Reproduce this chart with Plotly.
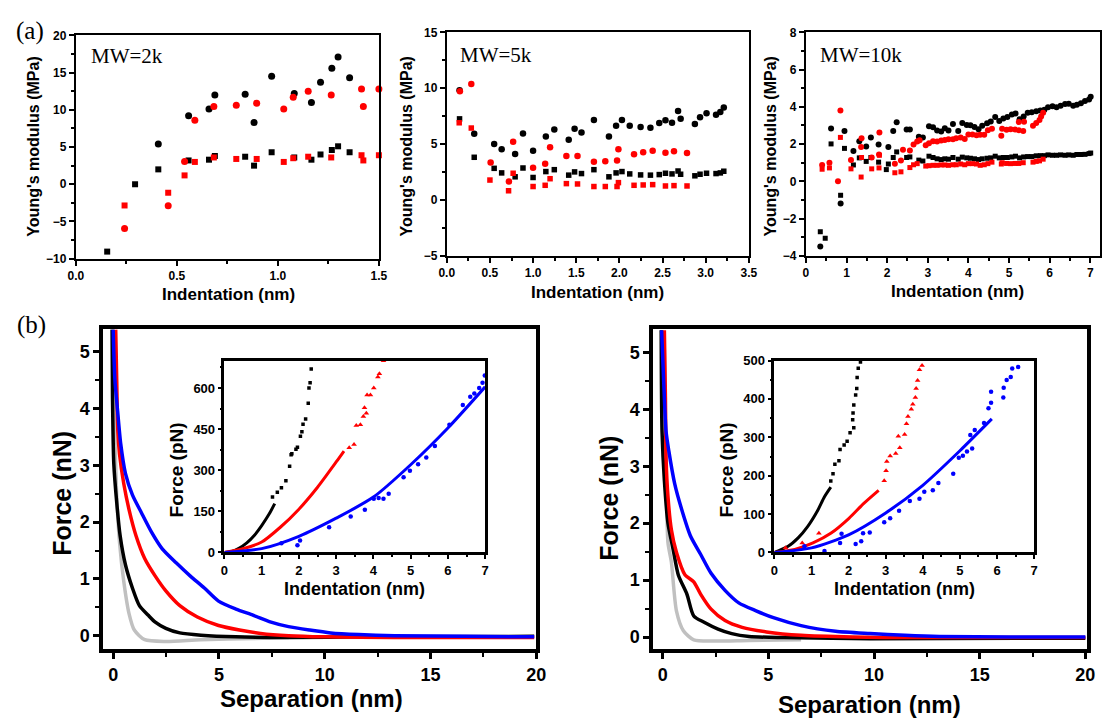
import plotly.graph_objects as go

W, H = 1112, 725

# ---------------- (a) MW=2k ----------------
a1_bc_x = [0.408, 0.558, 0.659, 0.688, 0.838, 0.882, 0.969, 1.081, 1.166, 1.211, 1.267, 1.298, 1.355]
a1_bc_y = [5.4, 9.2, 10.1, 12.0, 12.1, 8.3, 14.5, 12.2, 11.0, 13.7, 15.6, 17.1, 14.3]
a1_bs_x = [0.155, 0.293, 0.408, 0.558, 0.659, 0.688, 0.838, 0.882, 0.969, 1.081, 1.166, 1.211, 1.267, 1.298, 1.355]
a1_bs_y = [-9.05, 0.0, 2.0, 3.2, 3.3, 3.8, 3.7, 2.5, 4.3, 3.6, 3.3, 4.0, 4.6, 5.1, 4.3]
a1_rc_x = [0.241, 0.457, 0.538, 0.589, 0.683, 0.794, 0.895, 1.029, 1.076, 1.15, 1.264, 1.414, 1.423, 1.5]
a1_rc_y = [-5.93, -2.9, 3.07, 8.6, 10.45, 10.6, 10.9, 10.1, 11.7, 12.5, 12.0, 12.8, 10.45, 12.8]
a1_rs_x = [0.241, 0.457, 0.538, 0.589, 0.683, 0.794, 0.895, 1.029, 1.076, 1.15, 1.264, 1.414, 1.423, 1.5]
a1_rs_y = [-2.85, -1.14, 1.19, 3.0, 3.6, 3.4, 3.4, 3.0, 3.5, 3.7, 3.6, 3.9, 3.2, 3.9]

# ---------------- (a) MW=5k ----------------
a2_b_x = [0.148, 0.318, 0.549, 0.636, 0.792, 0.883, 1.0, 1.148, 1.246, 1.413, 1.481, 1.561, 1.705, 1.879,
          1.962, 2.03, 2.12, 2.246, 2.36, 2.462, 2.534, 2.61, 2.68, 2.71, 2.875, 2.935, 3.01, 3.12, 3.17, 3.21]
a2_bc_y = [9.83, 5.92, 5.01, 4.55, 4.11, 5.95, 4.40, 5.69, 6.30, 5.39, 6.38, 6.03, 7.17, 5.69,
           6.65, 7.17, 6.65, 6.53, 6.47, 6.88, 7.14, 6.91, 7.96, 7.26, 6.79, 7.4, 7.76, 7.64, 7.87, 8.28]
a2_bs_y = [7.26, 3.82, 2.83, 2.42, 2.07, 2.86, 2.01, 2.54, 2.71, 2.22, 2.51, 2.36, 2.71, 2.07,
           2.42, 2.54, 2.33, 2.24, 2.22, 2.27, 2.39, 2.33, 2.59, 2.30, 2.16, 2.30, 2.39, 2.36, 2.42, 2.57]
a2_rc_x = [0.152, 0.284, 0.508, 0.72, 0.769, 1.0, 1.14, 1.197, 1.386, 1.515, 1.705, 1.837, 1.973, 1.989,
           2.17, 2.276, 2.386, 2.534, 2.633, 2.784]
a2_rc_y = [9.74, 10.38, 3.35, 1.66, 5.22, 2.89, 3.24, 4.72, 3.94, 3.94, 3.41, 3.47, 3.53, 4.55,
           4.08, 4.26, 4.40, 4.23, 4.37, 4.20]
a2_rs_x = [0.144, 0.284, 0.5, 0.716, 0.769, 1.0, 1.14, 1.197, 1.386, 1.515, 1.705, 1.837, 1.973, 1.989,
           2.17, 2.276, 2.386, 2.534, 2.633, 2.784]
a2_rs_y = [6.91, 6.44, 1.78, 0.82, 2.39, 1.2, 1.31, 1.90, 1.46, 1.43, 1.20, 1.2, 1.2, 1.55,
           1.31, 1.34, 1.37, 1.25, 1.28, 1.25]

# ---------------- (a) MW=10k ----------------
a3_bc_x = [0.355, 0.62, 0.855, 0.95, 1.17, 1.315, 1.485, 1.6, 1.79, 2.03, 2.15, 2.235, 2.48, 2.56, 2.78, 2.88,
           3.03, 3.13, 3.23, 3.33, 3.42, 3.51, 3.62, 3.75, 3.85, 3.96, 4.05, 4.15, 4.25, 4.34, 4.46, 4.55,
           4.66, 4.76, 4.86, 4.96, 5.07, 5.16, 5.26, 5.36, 5.46, 5.56, 5.67, 5.77, 5.87, 5.96, 6.07, 6.17,
           6.27, 6.38, 6.47, 6.58, 6.67, 6.77, 6.87, 6.97, 7.01]
a3_bc_y = [-3.50, 2.84, -1.19, 2.71, 1.63, 2.15, 1.87, 2.36, 1.98, 1.84, 2.70, 3.17, 2.78, 2.78, 2.40, 2.36,
           2.96, 2.91, 2.73, 2.68, 2.85, 2.73, 3.08, 2.70, 3.13, 3.03, 3.01, 2.92, 2.80, 2.98, 3.12, 3.22,
           3.45, 3.24, 3.38, 3.45, 3.59, 3.64, 3.33, 3.49, 3.68, 3.71, 3.77, 3.80, 3.85, 3.98, 4.03, 3.98,
           4.06, 4.15, 4.17, 4.06, 4.12, 4.20, 4.31, 4.40, 4.54]
a3_bs_x = [0.355, 0.476, 0.62, 0.855, 0.95, 1.17, 1.315, 1.485, 1.6, 1.79, 1.98, 2.03, 2.15, 2.235, 2.48, 2.56,
           2.78, 2.88, 3.03, 3.13, 3.23, 3.33, 3.42, 3.51, 3.62, 3.75, 3.85, 3.96, 4.05, 4.15, 4.25, 4.34,
           4.46, 4.55, 4.66, 4.76, 4.86, 4.96, 5.07, 5.16, 5.26, 5.36, 5.46, 5.56, 5.67, 5.77, 5.87, 5.96,
           6.07, 6.17, 6.27, 6.38, 6.47, 6.58, 6.67, 6.77, 6.87, 6.97, 7.01]
a3_bs_y = [-2.71, -3.06, 2.01, -0.75, 1.77, 0.88, 1.26, 1.07, 1.28, 1.03, 0.63, 0.93, 1.28, 1.58, 1.28, 1.31,
           1.14, 1.09, 1.35, 1.28, 1.21, 1.17, 1.21, 1.19, 1.28, 1.19, 1.30, 1.26, 1.24, 1.21, 1.17, 1.21,
           1.24, 1.26, 1.35, 1.26, 1.28, 1.28, 1.31, 1.35, 1.26, 1.31, 1.33, 1.33, 1.37, 1.38, 1.38, 1.42,
           1.40, 1.40, 1.42, 1.40, 1.42, 1.40, 1.44, 1.44, 1.45, 1.49, 1.52]
a3_rc_x = [0.40, 0.58, 0.79, 0.85, 1.11, 1.36, 1.37, 1.62, 1.80, 1.81, 2.19, 2.34, 2.39, 2.56, 2.65, 2.74,
           2.80, 2.95, 3.03, 3.13, 3.23, 3.33, 3.42, 3.51, 3.62, 3.70, 3.81, 3.91, 4.0, 4.1, 4.2, 4.29,
           4.39, 4.48, 4.58, 4.81, 4.83, 4.94, 5.04, 5.15, 5.24, 5.35, 5.24, 5.37, 5.59, 5.67, 5.75, 5.79, 5.84]
a3_rc_y = [0.88, 1.0, 0.0, 3.80, 1.14, 1.84, 2.31, 1.28, 1.44, 2.63, 0.95, 1.12, 1.70, 1.65, 1.98, 2.14,
           2.21, 1.94, 2.05, 2.15, 2.14, 2.19, 2.22, 2.26, 2.26, 2.31, 2.35, 2.28, 2.52, 2.52, 2.47, 2.50,
           2.50, 2.75, 2.82, 2.45, 2.82, 2.77, 2.80, 2.78, 2.75, 2.71, 3.19, 3.20, 2.98, 3.13, 3.29, 3.48, 3.68]
a3_rs_x = [0.40, 0.58, 0.85, 1.11, 1.36, 1.37, 1.62, 1.80, 1.81, 2.19, 2.34, 2.56, 2.65, 2.74, 2.95, 3.03,
           3.13, 3.23, 3.33, 3.42, 3.51, 3.62, 3.70, 3.81, 3.91, 4.0, 4.1, 4.2, 4.29, 4.39, 4.48, 4.58,
           4.81, 4.83, 4.94, 5.04, 5.15, 5.24, 5.35, 5.59, 5.67, 5.75, 5.84]
a3_rs_y = [0.65, 0.72, 2.36, 0.67, 0.23, 1.28, 0.67, 0.72, 1.40, 0.46, 0.51, 0.74, 0.89, 0.95, 0.82, 0.84,
           0.86, 0.86, 0.88, 0.88, 0.86, 0.89, 0.89, 0.93, 0.89, 0.95, 0.95, 0.93, 0.86, 0.89, 0.95, 1.03,
           0.93, 1.0, 0.96, 0.95, 0.96, 0.96, 1.0, 1.03, 1.07, 1.10, 1.19]

# ---------------- (b) left: force vs separation ----------------
bl_blue_x = [0, 0.08, 0.2, 0.36, 0.58, 0.91, 1.33, 1.82, 2.32, 2.99, 3.65, 4.31, 4.98, 5.8, 6.63, 7.46, 8.29,
             9.29, 10.28, 11.6, 13.3, 16.6, 19.9]
bl_blue_y = [5.39, 4.52, 4.0, 3.37, 2.86, 2.48, 2.17, 1.82, 1.53, 1.28, 1.05, 0.84, 0.61, 0.47, 0.36, 0.24, 0.16,
             0.10, 0.05, 0.02, 0.0, -0.01, -0.02]
bl_red_x = [0.12, 0.17, 0.22, 0.3, 0.5, 0.75, 1.08, 1.49, 1.99, 2.49, 3.15, 3.98, 4.98, 5.97, 6.97, 8.29, 9.95,
            13.3, 16.6, 19.9]
bl_red_y = [5.39, 4.47, 3.6, 3.2, 2.68, 2.22, 1.76, 1.36, 1.05, 0.79, 0.53, 0.33, 0.18, 0.10, 0.04, 0.0, -0.02,
            -0.03, -0.03, -0.03]
bl_black_x = [-0.05, -0.03, 0.03, 0.17, 0.33, 0.58, 0.91, 1.24, 1.66, 1.99, 2.49, 3.15, 4.15, 5.8, 8.3, 11.6, 19.9]
bl_black_y = [5.39, 4.18, 3.03, 2.34, 1.76, 1.25, 0.84, 0.53, 0.36, 0.24, 0.13, 0.05, 0.01, -0.02, -0.03, -0.02, -0.01]
bl_gray_x = [0, 0.08, 0.17, 0.3, 0.5, 0.75, 1.0, 1.49, 2.49, 4.15, 6.63, 8.3]
bl_gray_y = [5.33, 3.6, 2.45, 1.65, 0.96, 0.39, 0.10, -0.07, -0.1, -0.07, -0.05, -0.03]

# inset left: force (pN) vs indentation (nm)
il_kfit_x = [0, 0.2, 0.4, 0.6, 0.8, 1.0, 1.2, 1.35]
il_kfit_y = [0, 4, 16, 35, 62, 98, 140, 178]
il_kpts_x = [1.29, 1.42, 1.53, 1.65, 1.75, 1.79, 1.81, 1.92, 1.96, 2.04, 2.08, 2.11, 2.18, 2.25, 2.27, 2.30, 2.33]
il_kpts_y = [202, 220, 236, 262, 314, 356, 360, 376, 384, 424, 440, 468, 487, 544, 600, 619, 669]
il_rfit_x = [0, 0.5, 1.0, 1.5, 2.0, 2.5, 3.0, 3.21]
il_rfit_y = [0, 14, 38, 92, 158, 238, 330, 370]
il_rpts_x = [3.35, 3.48, 3.54, 3.65, 3.73, 3.76, 3.81, 3.83, 3.92, 4.01, 4.12, 4.16, 4.27]
il_rpts_y = [382, 394, 463, 466, 496, 528, 508, 574, 574, 600, 640, 652, 699]
il_bfit_x = [0, 1, 2, 3, 4, 5, 6, 7]
il_bfit_y = [0, 14, 59, 125, 202, 320, 454, 604]
il_bpts_x = [1.53, 1.96, 2.03, 2.81, 3.39, 3.77, 4.01, 4.14, 4.27, 4.41, 4.81, 4.98, 5.2, 5.42, 5.65, 6.04,
             6.4, 6.6, 6.71, 6.84, 6.93, 6.99]
il_bpts_y = [34, 26, 44, 92, 131, 156, 196, 199, 196, 214, 274, 298, 322, 346, 388, 466, 538, 568, 580, 600, 619, 645]

# ---------------- (b) right ----------------
br_blue_x = [-0.05, 0.05, 0.16, 0.29, 0.57, 0.9, 1.31, 1.8, 2.29, 2.95, 3.6, 4.42, 5.24, 6.55, 8.18, 9.82,
             11.46, 13.1, 16.4, 20]
br_blue_y = [5.39, 4.47, 3.61, 3.27, 2.69, 2.24, 1.78, 1.45, 1.12, 0.82, 0.60, 0.46, 0.34, 0.20, 0.10, 0.06,
             0.03, 0.01, 0.0, 0.0]
br_red_x = [0.08, 0.13, 0.16, 0.25, 0.41, 0.65, 1.06, 1.47, 1.8, 2.29, 2.95, 3.76, 4.91, 6.55, 9.0, 11.46, 20]
br_red_y = [5.39, 4.19, 3.15, 2.47, 1.89, 1.49, 1.09, 0.97, 0.75, 0.49, 0.29, 0.17, 0.09, 0.03, 0.0, -0.01, -0.01]
br_black_x = [-0.07, -0.03, 0.08, 0.25, 0.49, 0.74, 1.15, 1.47, 1.96, 2.62, 3.27, 4.09, 5.73, 9.82, 20]
br_black_y = [5.39, 3.61, 2.75, 2.0, 1.55, 1.09, 0.75, 0.37, 0.26, 0.14, 0.06, 0.01, -0.01, -0.03, -0.02]
br_gray_x = [0.08, 0.16, 0.25, 0.41, 0.65, 0.98, 1.47, 2.46, 4.09, 6.55]
br_gray_y = [5.05, 3.04, 1.66, 1.32, 0.46, 0.11, -0.05, -0.07, -0.06, -0.05]

ir_kfit_x = [0, 0.37, 0.64, 0.9, 1.17, 1.35, 1.52]
ir_kfit_y = [0, 16, 38, 68, 110, 145, 170]
ir_kpts_x = [1.52, 1.58, 1.63, 1.74, 1.77, 1.88, 1.96, 2.04, 2.14, 2.11, 2.12, 2.14, 2.19, 2.22, 2.23, 2.26, 2.32]
ir_kpts_y = [186, 205, 230, 239, 268, 280, 290, 312, 325, 346, 363, 384, 410, 427, 456, 480, 496]
ir_rfit_x = [0, 0.55, 1.04, 1.52, 2.01, 2.41, 2.81]
ir_rfit_y = [0, 8, 25, 50, 89, 128, 162]
ir_rpts_x = [0.3, 0.75, 1.2, 2.96, 3.01, 3.03, 3.12, 3.27, 3.34, 3.38, 3.51, 3.56, 3.6, 3.69, 3.73, 3.80,
             3.82, 3.86, 3.91, 3.98]
ir_rpts_y = [12, 25, 50, 187, 213, 237, 251, 258, 303, 273, 307, 335, 354, 373, 386, 404, 427, 448, 476, 487]
ir_bfit_x = [0, 1, 2, 3, 4, 5, 5.86]
ir_bfit_y = [0, 12, 46, 103, 175, 265, 348]
ir_bpts_x = [0.81, 1.35, 1.77, 1.81, 2.19, 2.34, 2.39, 2.57, 2.96, 3.12, 3.36, 3.65, 3.91, 4.04, 4.27, 4.42,
             4.82, 4.97, 5.08, 5.19, 5.33, 5.28, 5.4, 5.65, 5.77, 5.84, 5.84, 6.17, 6.18, 6.26, 6.37, 6.41, 6.57]
ir_bpts_y = [16, 4, 25, 49, 22, 29, 50, 52, 79, 89, 109, 134, 140, 158, 162, 181, 205, 247, 252, 263, 271,
             306, 319, 337, 376, 390, 419, 404, 429, 449, 457, 479, 483]

BLACK, RED, BLUE, GRAY = "#000000", "#ff0000", "#0000ff", "#c0c0c0"

fig = go.Figure()


def sc(x, y, ax, color, symbol, size, clip=False):
    fig.add_trace(go.Scatter(x=x, y=y, mode="markers", xaxis="x" + ax, yaxis="y" + ax,
                             marker=dict(color=color, symbol=symbol, size=size, line=dict(width=0)),
                             cliponaxis=clip, showlegend=False, hoverinfo="skip"))


def ln(x, y, ax, color, width, smooth=0.7):
    fig.add_trace(go.Scatter(x=x, y=y, mode="lines", xaxis="x" + ax, yaxis="y" + ax,
                             line=dict(color=color, width=width, shape="spline", smoothing=smooth),
                             showlegend=False, hoverinfo="skip"))


# (a)
sc(a1_bs_x, a1_bs_y, "", BLACK, "square", 6)
sc(a1_bc_x, a1_bc_y, "", BLACK, "circle", 7)
sc(a1_rs_x, a1_rs_y, "", RED, "square", 6)
sc(a1_rc_x, a1_rc_y, "", RED, "circle", 7)

sc(a2_b_x, a2_bs_y, "2", BLACK, "square", 5.5)
sc(a2_b_x, a2_bc_y, "2", BLACK, "circle", 6.5)
sc(a2_rs_x, a2_rs_y, "2", RED, "square", 5.5)
sc(a2_rc_x, a2_rc_y, "2", RED, "circle", 6.5)

sc(a3_bs_x, a3_bs_y, "3", BLACK, "square", 5)
sc(a3_bc_x, a3_bc_y, "3", BLACK, "circle", 6)
sc(a3_rs_x, a3_rs_y, "3", RED, "square", 5)
sc(a3_rc_x, a3_rc_y, "3", RED, "circle", 6)

# (b) left main
ln(bl_gray_x, bl_gray_y, "4", GRAY, 3.5)
ln(bl_black_x, bl_black_y, "4", BLACK, 3.5)
ln(bl_red_x, bl_red_y, "4", RED, 3.5)
ln(bl_blue_x, bl_blue_y, "4", BLUE, 3.5)
# left inset
ln(il_kfit_x, il_kfit_y, "5", BLACK, 3)
sc(il_kpts_x, il_kpts_y, "5", BLACK, "square", 3.5, True)
ln(il_rfit_x, il_rfit_y, "5", RED, 3)
sc(il_rpts_x, il_rpts_y, "5", RED, "triangle-up", 5, True)
ln(il_bfit_x, il_bfit_y, "5", BLUE, 3)
sc(il_bpts_x, il_bpts_y, "5", BLUE, "circle", 4.5, True)

# (b) right main
ln(br_gray_x, br_gray_y, "6", GRAY, 3.5)
ln(br_black_x, br_black_y, "6", BLACK, 3.5)
ln(br_red_x, br_red_y, "6", RED, 3.5)
ln(br_blue_x, br_blue_y, "6", BLUE, 3.5)
# right inset
ln(ir_kfit_x, ir_kfit_y, "7", BLACK, 3)
sc(ir_kpts_x, ir_kpts_y, "7", BLACK, "square", 3.5, True)
ln(ir_rfit_x, ir_rfit_y, "7", RED, 3)
sc(ir_rpts_x, ir_rpts_y, "7", RED, "triangle-up", 5, True)
ln(ir_bfit_x, ir_bfit_y, "7", BLUE, 3)
sc(ir_bpts_x, ir_bpts_y, "7", BLUE, "circle", 4.5, True)


def xd(p0, p1):
    return [p0 / W, p1 / W]


def yd(top, bot):
    return [1 - bot / H, 1 - top / H]


SANS = "Liberation Sans"


def axis(domain, rng, dtick, minor, anchor, lw, tfs, tl=5, tw=2, fmt=None):
    d = dict(domain=domain, range=rng, dtick=dtick, tick0=0, anchor=anchor,
             showline=True, linewidth=lw, linecolor="black", mirror=True,
             ticks="outside", ticklen=tl, tickwidth=tw, tickcolor="black",
             showgrid=False, zeroline=False, fixedrange=True,
             tickfont=dict(family=SANS, size=tfs, color="black", weight="bold"),
             minor=dict(dtick=minor, ticks="outside", ticklen=max(2, tl - 2), tickwidth=tw * 0.75,
                        tickcolor="black", showgrid=False))
    if fmt:
        d["tickformat"] = fmt
    return d


lay = dict(width=W, height=H, margin=dict(l=0, r=0, t=0, b=0),
           paper_bgcolor="white", plot_bgcolor="white", showlegend=False)

lay["xaxis"] = axis(xd(69, 377), [0, 1.5], 0.5, 0.25, "y", 2, 12, fmt=".1f")
lay["yaxis"] = axis(yd(29, 257), [-10, 20], 5, 2.5, "x", 2, 12)
lay["xaxis2"] = axis(xd(446, 753), [0, 3.5], 0.5, 0.25, "y2", 2, 12, fmt=".1f")
lay["yaxis2"] = axis(yd(26, 254), [-5, 15], 5, 2.5, "x2", 2, 12)
lay["xaxis3"] = axis(xd(811, 1110), [0, 7.24], 1, 0.5, "y3", 2, 12)
lay["yaxis3"] = axis(yd(26, 254), [-4, 8], 2, 1, "x3", 2, 12)

lay["xaxis4"] = axis(xd(97, 537), [-0.46, 20.0], 5, 2.5, "y4", 4, 18, tl=6, tw=3)
lay["yaxis4"] = axis(yd(329, 656), [-0.241, 5.397], 1, 0.5, "x4", 4, 18, tl=6, tw=3)
lay["xaxis5"] = axis(xd(220, 485), [0, 7], 1, 0.5, "y5", 2.5, 13, tl=4, tw=2)
lay["yaxis5"] = axis(yd(361, 557), [0, 700], 150, 75, "x5", 2.5, 13, tl=4, tw=2)

lay["xaxis6"] = axis(xd(656, 1097), [-0.44, 20.09], 5, 2.5, "y6", 4, 18, tl=6, tw=3)
lay["yaxis6"] = axis(yd(329, 656), [-0.218, 5.408], 1, 0.5, "x6", 4, 18, tl=6, tw=3)
lay["xaxis7"] = axis(xd(779, 1043), [0, 7], 1, 0.5, "y7", 2.5, 13, tl=4, tw=2)
lay["yaxis7"] = axis(yd(361, 557), [0, 500], 100, 50, "x7", 2.5, 13, tl=4, tw=2)

anns = []


def txt(t, px, py, size, family=SANS, bold=True, angle=0, xanchor="center"):
    anns.append(dict(text=t, x=px / W, y=1 - py / H, xref="paper", yref="paper", showarrow=False,
                     xanchor=xanchor, yanchor="middle", textangle=angle,
                     font=dict(family=family, size=size, color="black", weight="bold" if bold else "normal")))


SERIF = "Liberation Serif"
txt("(a)", 22, 25, 25, SERIF, bold=False)
txt("(b)", 24, 325, 25, SERIF, bold=False)
txt("MW=2k", 82, 50, 21, SERIF, bold=False, xanchor="left")
txt("MW=5k", 457, 49, 21, SERIF, bold=False, xanchor="left")
txt("MW=10k", 823, 49, 21, SERIF, bold=False, xanchor="left")

txt("Young's modulus (MPa)", 25, 143, 16, angle=-90)
txt("Indentation (nm)", 224, 294, 17)
txt("Young's modulus (MPa)", 405, 142, 16, angle=-90)
txt("Indentation (nm)", 599, 292, 17)
txt("Young's modulus (MPa)", 775, 142, 16, angle=-90)
txt("Indentation (nm)", 965, 291, 17)

txt("Force (nN)", 55, 497, 25, angle=-90)
txt("Separation (nm)", 308, 706, 24)
txt("Force (nN)", 611, 502, 25, angle=-90)
txt("Separation (nm)", 876, 712, 24)

txt("Force (pN)", 171, 473, 19, angle=-90)
txt("Indentation (nm)", 352, 594, 18)
txt("Force (pN)", 730, 473, 19, angle=-90)
txt("Indentation (nm)", 911, 594, 18)

lay["annotations"] = anns
fig.update_layout(**lay)
fig.write_html("out.html", config={"displayModeBar": False},
               post_script="document.body.style.margin='0';document.body.style.overflow='hidden';")
